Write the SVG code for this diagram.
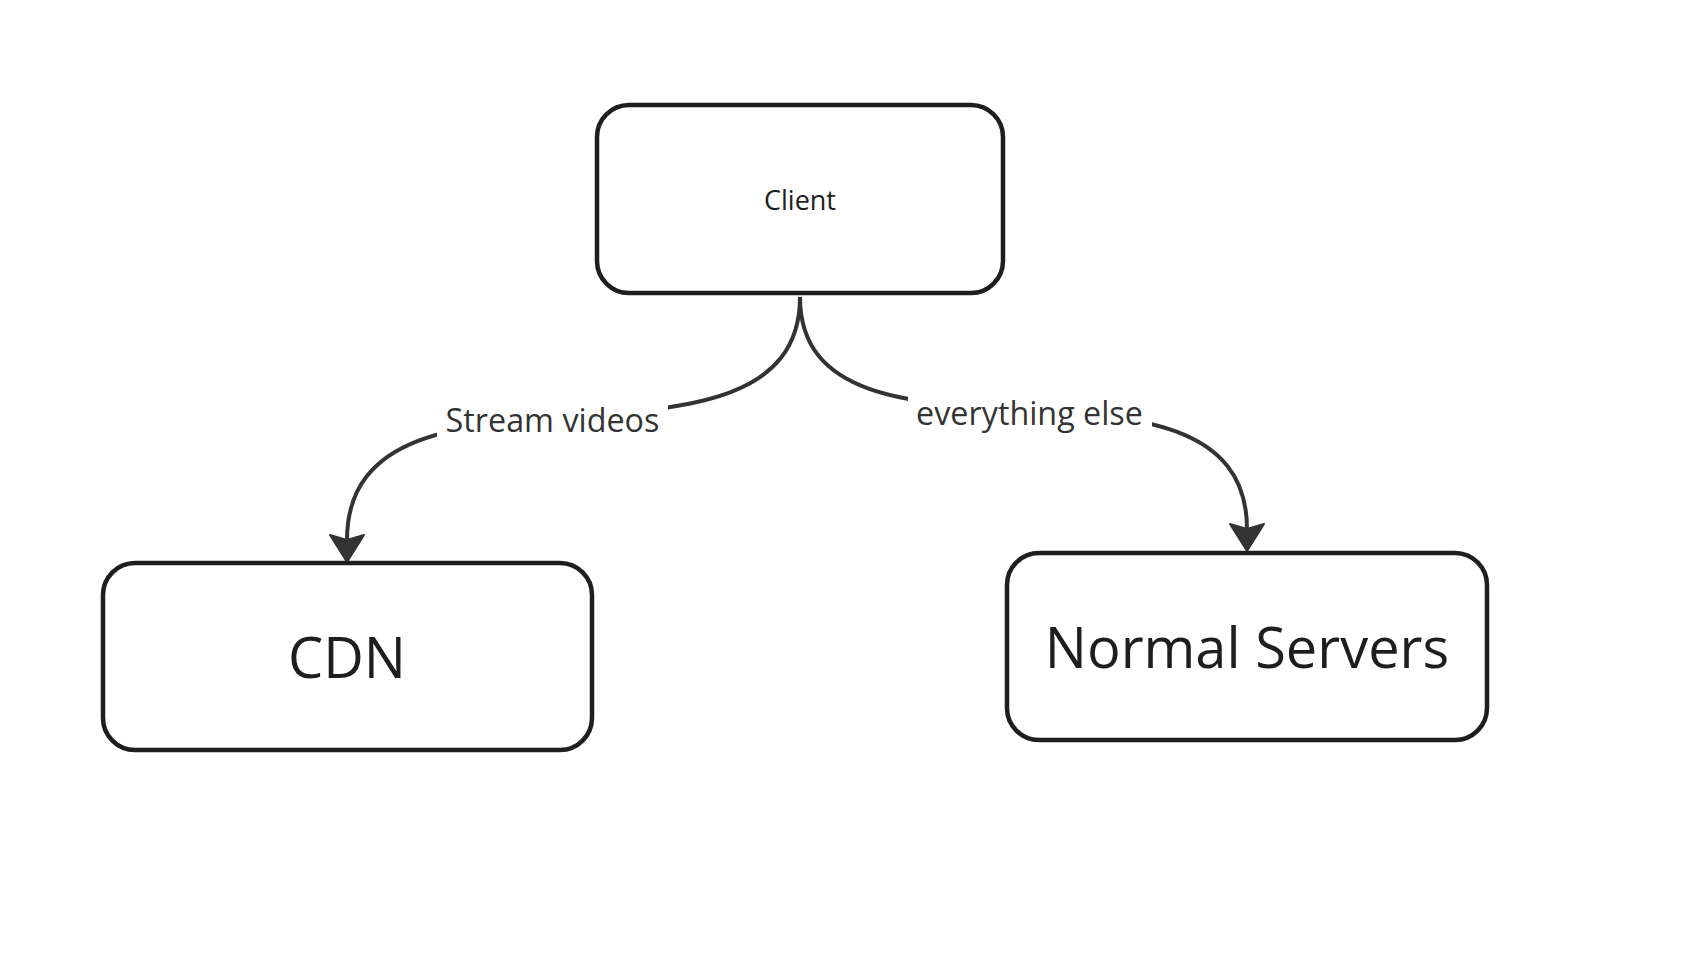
<svg xmlns="http://www.w3.org/2000/svg" width="1704" height="978" viewBox="0 0 1704 978">
  <style>
    .box { fill: #ffffff; stroke: #1e1e1e; stroke-width: 4.5; }
    .ntext { font-family: "Open Sans", "Noto Sans", sans-serif; fill: #1e1e1e; text-anchor: middle; }
    .edge { fill: none; stroke: #333333; stroke-width: 4; }
    .elabel { font-family: "Open Sans", "Noto Sans", sans-serif; font-size: 32.3px; fill: #333333; text-anchor: middle; }
    .gap { fill: #ffffff; stroke: none; }
  </style>
  <defs>
    <marker id="arrow" markerUnits="userSpaceOnUse" viewBox="-10 -22 36 44" markerWidth="36" markerHeight="44" refX="0" refY="0" orient="auto">
      <path d="M22,0 L-5,-17 L0,0 L-5,17 Z" fill="#333333" stroke="#333333" stroke-width="2" stroke-linejoin="round"/>
    </marker>
  </defs>
  <rect width="1704" height="978" fill="#ffffff"/>

  <g id="connectors">
    <g id="edge-stream">
      <path class="edge" d="M800,297 C800,505 347,326 347,540" marker-end="url(#arrow)"/>
      <rect class="gap" x="437" y="398" width="231" height="46"/>
      <text class="elabel" x="552.5" y="432">Stream videos</text>
    </g>
    <g id="edge-else">
      <path class="edge" d="M800,297 C800,500 1247,317 1247,529" marker-end="url(#arrow)"/>
      <rect class="gap" x="908" y="390" width="244" height="46"/>
      <text class="elabel" x="1029.5" y="425">everything else</text>
    </g>
  </g>

  <g id="node-client">
    <rect class="box" x="597" y="105" width="406" height="188" rx="32"/>
    <text class="ntext" x="800" y="210" font-size="27">Client</text>
  </g>
  <g id="node-cdn">
    <rect class="box" x="103" y="563" width="489" height="187" rx="32"/>
    <text class="ntext" x="347" y="678" font-size="56">CDN</text>
  </g>
  <g id="node-normal">
    <rect class="box" x="1007" y="553" width="480" height="187" rx="32"/>
    <text class="ntext" x="1247" y="668" font-size="56">Normal Servers</text>
  </g>
</svg>
